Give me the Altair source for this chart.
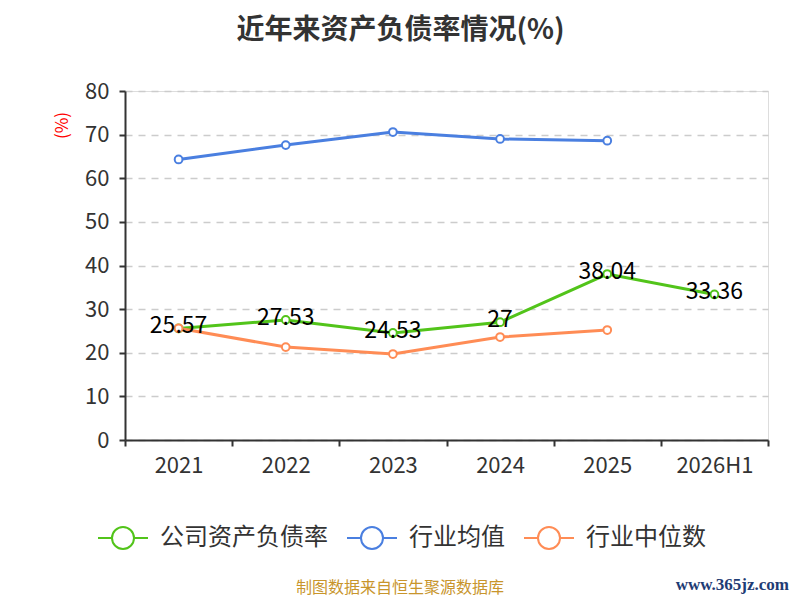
import altair as alt
import pandas as pd

years = ["2021", "2022", "2023", "2024", "2025", "2026H1"]
company = [25.57, 27.53, 24.53, 27, 38.04, 33.36]
industry_avg = [64.3, 67.6, 70.6, 69.0, 68.6]
industry_median = [25.6, 21.3, 19.7, 23.6, 25.2]
series_names = ["公司资产负债率", "行业均值", "行业中位数"]
series_colors = ["#52c41a", "#4a7fe0", "#ff8c55"]

rows = []
for y, v in zip(years, company):
    rows.append({"year": y, "series": series_names[0], "value": v, "label": f"{v:g}"})
for y, v in zip(years, industry_avg):
    rows.append({"year": y, "series": series_names[1], "value": v, "label": ""})
for y, v in zip(years, industry_median):
    rows.append({"year": y, "series": series_names[2], "value": v, "label": ""})
df = pd.DataFrame(rows)

FONT = "Noto Sans CJK SC"

legend_symbol = "M-1,0L-0.44,0M0.44,0L1,0M-0.44,0A0.44,0.44,0,1,1,0.44,0A0.44,0.44,0,1,1,-0.44,0Z"

x_enc = alt.X(
    "year:N",
    sort=years,
    scale=alt.Scale(type="band", domain=years, paddingInner=0, paddingOuter=0),
    axis=alt.Axis(
        title=None,
        labelAngle=0,
        labelFontSize=22,
        labelColor="#333333",
        labelFont=FONT,
        labelPadding=9,
        tickBand="extent",
        tickSize=6,
        tickColor="#333333",
        tickWidth=2,
        domainColor="#333333",
        domainWidth=2,
        grid=False,
    ),
)
y_enc = alt.Y(
    "value:Q",
    scale=alt.Scale(domain=[0, 80], nice=False, zero=True),
    axis=alt.Axis(
        values=[0, 10, 20, 30, 40, 50, 60, 70, 80],
        title="(%)",
        titleColor="red",
        titleFontSize=17,
        titleFontWeight="normal",
        titleFont=FONT,
        titleAngle=-90,
        titleX=-63,
        titleY=34,
        titleAlign="center",
        titleBaseline="middle",
        labelFontSize=22,
        labelColor="#333333",
        labelFont=FONT,
        labelPadding=10,
        tickSize=6,
        tickColor="#333333",
        tickWidth=2,
        domainColor="#333333",
        domainWidth=2,
        grid=True,
        gridColor="#cccccc",
        gridDash=[7, 6],
        gridWidth=1.5,
    ),
)
color_enc = alt.Color(
    "series:N",
    scale=alt.Scale(domain=series_names, range=series_colors),
    sort=series_names,
    legend=alt.Legend(
        title=None,
        orient="none",
        direction="horizontal",
        legendX=-28,
        legendY=421,
        symbolType=legend_symbol,
        symbolSize=2500,
        symbolStrokeWidth=2,
        symbolFillColor="white",
        labelFontSize=24,
        labelFont=FONT,
        labelColor="#333333",
        labelOffset=11,
        columnPadding=15,
        padding=0,
        labelLimit=300,
    ),
)

lines = alt.Chart(df).mark_line(strokeWidth=3).encode(
    x=x_enc, y=y_enc, color=color_enc
)
points = alt.Chart(df).mark_point(
    filled=False, fill="white", size=60, strokeWidth=2, opacity=1
).encode(x=x_enc, y=y_enc, color=color_enc)

labels = alt.Chart(df[df["series"] == series_names[0]]).mark_text(
    fontSize=23, font=FONT, color="black", baseline="middle", dy=-2
).encode(x=alt.X("year:N", sort=years), y="value:Q", text="label:N")

footer_df = pd.DataFrame({"t": ["制图数据来自恒生聚源数据库"]})
footer = alt.Chart(footer_df).mark_text(
    fontSize=16, font=FONT, color="#c8952c", align="center", baseline="middle"
).encode(text="t:N", x=alt.value(275), y=alt.value(497))

wm_df = pd.DataFrame({"t": ["www.365jz.com"]})
watermark = alt.Chart(wm_df).mark_text(
    fontSize=17, font="Liberation Serif", fontWeight="bold", color="#1f3c74",
    align="right", baseline="middle"
).encode(text="t:N", x=alt.value(664), y=alt.value(494))

chart = alt.layer(lines, points, labels, footer, watermark).properties(
    width=643,
    height=349,
    title=alt.TitleParams(
        text="近年来资产负债率情况(%)",
        fontSize=28,
        fontWeight="bold",
        color="#333333",
        font=FONT,
        anchor="middle",
        dx=-46,
        offset=35,
    ),
    autosize=alt.AutoSizeParams(type="none"),
    padding={"left": 117, "top": 83, "right": 24, "bottom": 160},
).configure_view(stroke=None).configure(background="white")

chart.save("out.html", embed_options={"renderer": "svg", "actions": False})
